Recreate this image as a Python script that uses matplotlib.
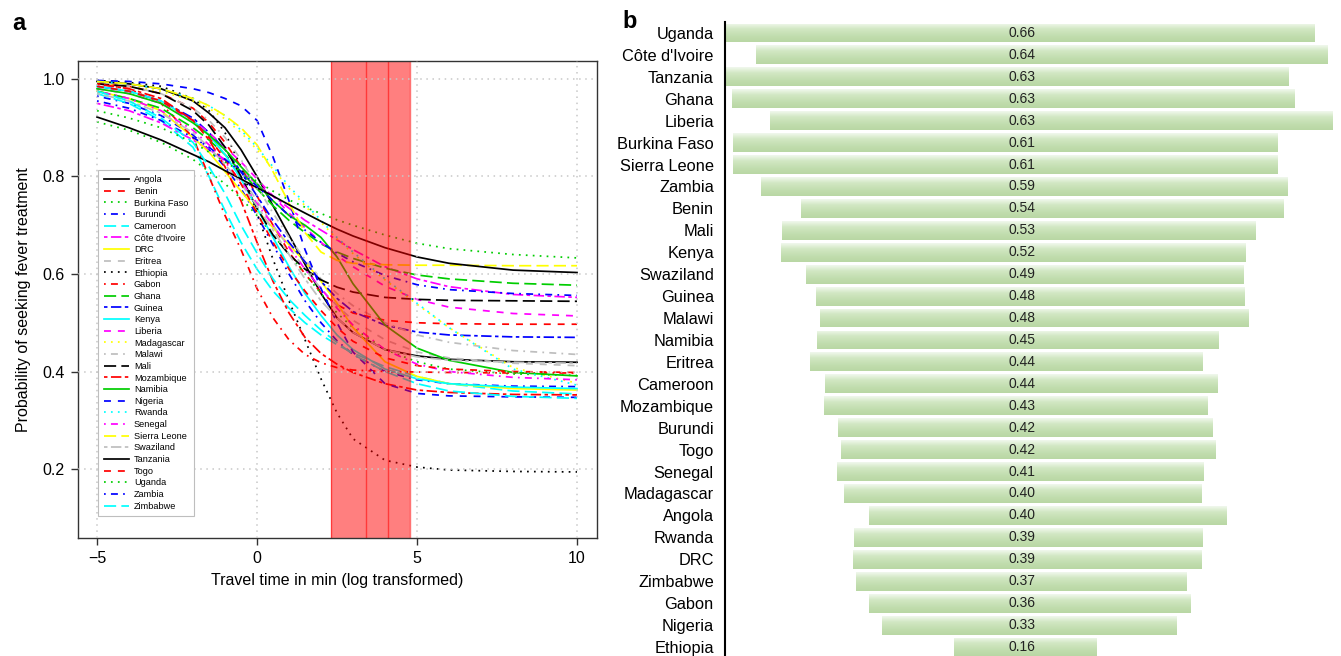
import numpy as np
import matplotlib
matplotlib.use("Agg")
import matplotlib.pyplot as plt
from matplotlib.colors import LinearSegmentedColormap

plt.rcParams['font.family'] = ['Liberation Sans', 'DejaVu Sans']

# ---- panel a: probability curves ----
travel_x = [-5, -4, -3, -2, -1.5, -1, -0.5, 0, 0.5, 1, 1.5, 2, 2.5, 3, 4, 5, 6, 8, 10]

angola = [0.995, 0.99, 0.98, 0.955, 0.93, 0.9, 0.855, 0.8, 0.74, 0.68, 0.62, 0.56, 0.51, 0.48, 0.445, 0.432, 0.425, 0.42, 0.419]
benin = [0.99, 0.985, 0.97, 0.94, 0.91, 0.87, 0.82, 0.76, 0.7, 0.645, 0.6, 0.562, 0.537, 0.52, 0.505, 0.5, 0.498, 0.497, 0.497]
burkina_faso = [0.912, 0.895, 0.87, 0.835, 0.81, 0.785, 0.755, 0.72, 0.68, 0.64, 0.6, 0.56, 0.52, 0.49, 0.445, 0.42, 0.405, 0.395, 0.392]
burundi = [0.965, 0.95, 0.925, 0.885, 0.855, 0.82, 0.775, 0.72, 0.66, 0.6, 0.545, 0.5, 0.463, 0.435, 0.4, 0.383, 0.375, 0.37, 0.369]
cameroon = [0.97, 0.95, 0.915, 0.86, 0.8, 0.73, 0.665, 0.61, 0.565, 0.53, 0.5, 0.475, 0.455, 0.438, 0.41, 0.39, 0.375, 0.36, 0.354]
cote_divoire = [0.95, 0.935, 0.91, 0.875, 0.855, 0.835, 0.81, 0.785, 0.76, 0.735, 0.71, 0.69, 0.67, 0.65, 0.615, 0.59, 0.574, 0.558, 0.552]
drc = [0.975, 0.96, 0.935, 0.88, 0.85, 0.81, 0.77, 0.73, 0.695, 0.66, 0.625, 0.585, 0.54, 0.49, 0.42, 0.39, 0.375, 0.365, 0.362]
eritrea = [0.985, 0.975, 0.955, 0.915, 0.885, 0.845, 0.8, 0.75, 0.7, 0.655, 0.61, 0.57, 0.535, 0.505, 0.465, 0.44, 0.428, 0.417, 0.412]
ethiopia = [0.997, 0.993, 0.985, 0.96, 0.935, 0.89, 0.82, 0.725, 0.63, 0.545, 0.465, 0.385, 0.315, 0.262, 0.218, 0.204, 0.198, 0.195, 0.194]
gabon = [0.99, 0.98, 0.95, 0.88, 0.8, 0.72, 0.65, 0.57, 0.51, 0.465, 0.435, 0.418, 0.408, 0.403, 0.4, 0.399, 0.398, 0.397, 0.397]
ghana = [0.975, 0.96, 0.94, 0.9, 0.875, 0.845, 0.81, 0.775, 0.74, 0.71, 0.685, 0.662, 0.645, 0.632, 0.612, 0.598, 0.59, 0.581, 0.577]
guinea = [0.985, 0.975, 0.955, 0.92, 0.89, 0.855, 0.81, 0.76, 0.71, 0.665, 0.625, 0.585, 0.55, 0.523, 0.495, 0.481, 0.475, 0.471, 0.47]
kenya = [0.985, 0.975, 0.955, 0.915, 0.885, 0.845, 0.795, 0.735, 0.675, 0.615, 0.56, 0.515, 0.475, 0.445, 0.405, 0.385, 0.375, 0.368, 0.365]
liberia = [0.98, 0.97, 0.95, 0.915, 0.89, 0.86, 0.83, 0.795, 0.76, 0.725, 0.695, 0.665, 0.638, 0.615, 0.575, 0.548, 0.532, 0.519, 0.514]
madagascar = [0.99, 0.985, 0.975, 0.955, 0.94, 0.918, 0.89, 0.855, 0.815, 0.776, 0.74, 0.706, 0.672, 0.642, 0.588, 0.538, 0.49, 0.408, 0.376]
malawi = [0.99, 0.985, 0.97, 0.94, 0.915, 0.88, 0.835, 0.78, 0.725, 0.675, 0.63, 0.59, 0.56, 0.535, 0.5, 0.475, 0.46, 0.443, 0.435]
mali = [0.99, 0.985, 0.97, 0.935, 0.905, 0.86, 0.8, 0.735, 0.68, 0.64, 0.61, 0.588, 0.573, 0.563, 0.552, 0.548, 0.546, 0.545, 0.544]
mozambique = [0.99, 0.98, 0.96, 0.915, 0.875, 0.82, 0.75, 0.665, 0.585, 0.52, 0.47, 0.437, 0.415, 0.398, 0.375, 0.362, 0.357, 0.353, 0.352]
namibia = [0.98, 0.97, 0.95, 0.91, 0.885, 0.855, 0.82, 0.785, 0.75, 0.72, 0.7, 0.675, 0.635, 0.58, 0.495, 0.448, 0.423, 0.398, 0.391]
nigeria = [0.997, 0.995, 0.99, 0.98, 0.972, 0.96, 0.945, 0.915, 0.84, 0.75, 0.65, 0.57, 0.5, 0.44, 0.375, 0.355, 0.35, 0.348, 0.347]
rwanda = [0.995, 0.99, 0.98, 0.96, 0.945, 0.925, 0.895, 0.86, 0.82, 0.78, 0.745, 0.71, 0.675, 0.645, 0.59, 0.54, 0.49, 0.405, 0.372]
senegal = [0.975, 0.96, 0.935, 0.895, 0.865, 0.83, 0.79, 0.745, 0.7, 0.655, 0.61, 0.57, 0.53, 0.495, 0.445, 0.415, 0.4, 0.388, 0.383]
sierra_leone = [0.995, 0.99, 0.98, 0.96, 0.945, 0.925, 0.9, 0.865, 0.81, 0.745, 0.685, 0.645, 0.628, 0.622, 0.619, 0.618, 0.618, 0.617, 0.617]
swaziland = [0.97, 0.955, 0.93, 0.89, 0.86, 0.825, 0.785, 0.74, 0.69, 0.64, 0.59, 0.545, 0.51, 0.48, 0.445, 0.43, 0.423, 0.419, 0.417]
tanzania = [0.922, 0.9, 0.875, 0.845, 0.83, 0.812, 0.795, 0.777, 0.76, 0.742, 0.725, 0.708, 0.692, 0.678, 0.654, 0.635, 0.622, 0.608, 0.603]
togo = [0.985, 0.975, 0.955, 0.915, 0.88, 0.835, 0.785, 0.725, 0.665, 0.61, 0.565, 0.525, 0.49, 0.462, 0.428, 0.412, 0.405, 0.4, 0.398]
uganda = [0.935, 0.92, 0.9, 0.87, 0.85, 0.83, 0.81, 0.79, 0.77, 0.752, 0.737, 0.724, 0.711, 0.7, 0.68, 0.663, 0.652, 0.64, 0.633]
zambia = [0.955, 0.94, 0.915, 0.88, 0.86, 0.835, 0.81, 0.78, 0.75, 0.72, 0.69, 0.665, 0.643, 0.625, 0.597, 0.578, 0.568, 0.56, 0.556]
zimbabwe = [0.975, 0.955, 0.92, 0.87, 0.82, 0.765, 0.7, 0.643, 0.59, 0.548, 0.515, 0.485, 0.46, 0.435, 0.4, 0.375, 0.36, 0.349, 0.345]

countries = ["Angola", "Benin", "Burkina Faso", "Burundi", "Cameroon", "Côte d'Ivoire",
             "DRC", "Eritrea", "Ethiopia", "Gabon", "Ghana", "Guinea", "Kenya", "Liberia",
             "Madagascar", "Malawi", "Mali", "Mozambique", "Namibia", "Nigeria", "Rwanda",
             "Senegal", "Sierra Leone", "Swaziland", "Tanzania", "Togo", "Uganda", "Zambia",
             "Zimbabwe"]
curves = [angola, benin, burkina_faso, burundi, cameroon, cote_divoire, drc, eritrea,
          ethiopia, gabon, ghana, guinea, kenya, liberia, madagascar, malawi, mali,
          mozambique, namibia, nigeria, rwanda, senegal, sierra_leone, swaziland,
          tanzania, togo, uganda, zambia, zimbabwe]

band = (2.31, 4.78)
band_lines = [3.4, 4.1]

# ---- panel b ----
bar_countries = ["Uganda", "Côte d'Ivoire", "Tanzania", "Ghana", "Liberia", "Burkina Faso",
                 "Sierra Leone", "Zambia", "Benin", "Mali", "Kenya", "Swaziland", "Guinea",
                 "Malawi", "Namibia", "Eritrea", "Cameroon", "Mozambique", "Burundi", "Togo",
                 "Senegal", "Madagascar", "Angola", "Rwanda", "DRC", "Zimbabwe", "Gabon",
                 "Nigeria", "Ethiopia"]
bar_values = [0.66, 0.64, 0.63, 0.63, 0.63, 0.61, 0.61, 0.59, 0.54, 0.53, 0.52, 0.49, 0.48,
              0.48, 0.45, 0.44, 0.44, 0.43, 0.42, 0.42, 0.41, 0.40, 0.40, 0.39, 0.39, 0.37,
              0.36, 0.33, 0.16]
bar_left = [0.0, 0.035, 0.001, 0.008, 0.050, 0.009, 0.009, 0.040, 0.085, 0.064, 0.063, 0.091,
            0.102, 0.107, 0.103, 0.095, 0.112, 0.111, 0.127, 0.130, 0.125, 0.133, 0.161,
            0.145, 0.143, 0.147, 0.161, 0.176, 0.257]

r_colors = ['black', '#FF0000', '#00CD00', '#0000FF', '#00FFFF', '#FF00FF', '#FFFF00', '#BEBEBE']
r_ltys = ['-', (0, (4, 4)), (0, (1, 3)), (0, (1, 3, 4, 3)), (0, (7, 3)), (0, (2, 2, 6, 2))]

fig = plt.figure(figsize=(13.41, 6.56), dpi=100)

ax = fig.add_axes([0.05817, 0.17988, 0.38702, 0.72713])
for i, (name, ys) in enumerate(zip(countries, curves)):
    ax.plot(travel_x, ys, color=r_colors[i % 8], ls=r_ltys[i % 6], lw=1.25,
            label=name, zorder=2)

ax.axvspan(band[0], band[1], color='red', alpha=0.5, lw=0, zorder=2.2)
for v in [band[0], *band_lines, band[1]]:
    ax.axvline(v, color='red', lw=1, alpha=0.55, zorder=2.3)

ax.set_xlim(-5.594, 10.625)
ax.set_ylim(0.0585, 1.0369)
ax.set_xticks([-5, 0, 5, 10])
ax.set_yticks([0.2, 0.4, 0.6, 0.8, 1.0])
ax.set_axisbelow(False)
ax.grid(True, color='#C8C8C8', ls=(0, (1, 3)), lw=1.1)
ax.tick_params(direction='out', length=5, width=1, labelsize=11.5, pad=4.5, color='#333333')
for s in ax.spines.values():
    s.set_color('#333333')
    s.set_linewidth(1)
ax.set_xlabel("Travel time in min (log transformed)", fontsize=11.5, labelpad=5)
ax.set_ylabel("Probability of seeking fever treatment", fontsize=11.5, labelpad=8)

leg = ax.legend(loc='lower left', bbox_to_anchor=(0.03, 0.036), fontsize=6.6,
                frameon=True, fancybox=False, edgecolor='#BEBEBE', framealpha=1,
                handlelength=2.8, labelspacing=0.29, borderpad=0.6, handletextpad=0.5)
leg.get_frame().set_linewidth(0.8)
leg.set_zorder(5)

fig.text(12 / 1341, 1 - 30 / 656, "a", fontsize=17, fontweight='bold', va='baseline')
fig.text(622 / 1341, 1 - 28 / 656, "b", fontsize=17, fontweight='bold', va='baseline')

# panel b
axb = fig.add_axes([0.5406, 0.0, 0.4594, 0.9665])
ypos = np.arange(len(bar_countries))
bars = axb.barh(ypos, bar_values, left=bar_left, height=0.86, color='#c8e1b8', lw=0)

grad = LinearSegmentedColormap.from_list(
    'bargrad', [(0.0, '#f1f8ed'), (0.3, '#d2e8c4'), (0.7, '#c1ddae'), (1.0, '#b9d7a4')])
shade = np.linspace(0, 1, 64).reshape(-1, 1)
for bar in bars:
    x0, y0 = bar.get_x(), bar.get_y()
    w, h = bar.get_width(), bar.get_height()
    im = axb.imshow(shade, cmap=grad, aspect='auto', origin='upper',
                    extent=(x0, x0 + w, y0 + h, y0), zorder=2)
    im.set_clip_path(bar)

for yi, v in zip(ypos, bar_values):
    axb.text(0.333, yi, f"{v:.2f}", ha='center', va='center', fontsize=10,
             color='#222222', zorder=3)

axb.set_xlim(0, 0.69)
axb.set_ylim(28.41, -0.5)
axb.set_xticks([])
axb.set_yticks(ypos)
axb.set_yticklabels(bar_countries, fontsize=11.8)
axb.tick_params(axis='y', length=0, pad=8)
for side in ['top', 'right', 'bottom']:
    axb.spines[side].set_visible(False)
axb.spines['left'].set_linewidth(1.5)
axb.spines['left'].set_color('black')

fig.savefig("out.png", dpi=100)
